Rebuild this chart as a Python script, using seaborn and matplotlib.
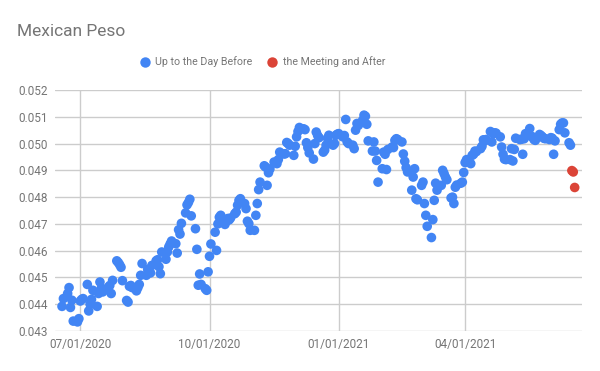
import matplotlib
matplotlib.use("Agg")
import matplotlib.pyplot as plt
import matplotlib.dates as mdates
from matplotlib.lines import Line2D
import pandas as pd
import seaborn as sns

# ---- data -------------------------------------------------------------
title = "Mexican Peso"
series_names = ["Up to the Day Before", "the Meeting and After"]

before_start, before_end = "2020-06-18", "2021-06-15"
after_dates = ["2021-06-16", "2021-06-17", "2021-06-18"]

# business-day values, one row per week (Mon..Fri)
before_values = [
    .04392, .04421,
    .04440, .04462, .04388, .04415, .04337,
    .04334, .04346, .04412, .04418, .04421,
    .04474, .04375, .04400, .04418, .04452,
    .04392, .04440, .04483, .04460, .04446,
    .04455, .04464, .04470, .04440, .04489,
    .04562, .04556, .04548, .04538, .04488,
    .04414, .04408, .04467, .04470, .04462,
    .04450, .04462, .04474, .04508, .04552,
    .04508, .04530, .04520, .04517, .04545,
    .04562, .04566, .04540, .04514, .04595,
    .04568, .04595, .04614, .04625, .04636,
    .04626, .04591, .04678, .04662, .04702,
    .04741, .04771, .04780, .04792, .04730,
    .04682, .04605, .04471, .04513, .04474,
    .04458, .04452, .04521, .04579, .04625,
    .04669, .04601, .04700, .04725, .04732,
    .04698, .04710, .04720, .04715, .04722,
    .04738, .04744, .04770, .04788, .04794,
    .04776, .04757, .04710, .04701, .04676,
    .04676, .04732, .04776, .04828, .04856,
    .04917, .04912, .04844, .04891, .04905,
    .04931, .04928, .04925, .04940, .04968,
    .04961, .04962, .05004, .05000, .04994,
    .04956, .04990, .05025, .05045, .05060,
    .05055, .05052, .05003, .04985, .04965,
    .04942, .05000, .05043, .05030, .05022,
    .04968, .04975, .04994, .05020, .05031,
    .04994, .05000, .05031, .05035, .05037,
    .05025, .05030, .05090, .05006, .05000,
    .04994, .04981, .05050, .05075, .05068,
    .05087, .05106, .05102, .05072, .05010,
    .04972, .05006, .04972, .04937, .04856,
    .04906, .04968, .04960, .04903, .04978,
    .04987, .04985, .05012, .05018, .05015,
    .05006, .04961, .04934, .04910, .04894,
    .04826, .04875, .04906, .04794, .04790,
    .04844, .04856, .04776, .04732, .04691,
    .04649, .04716, .04788, .04852, .04826,
    .04844, .04900, .04888, .04875, .04865,
    .04797, .04800, .04776, .04837, .04845,
    .04852, .04856, .04892, .04929, .04940,
    .04925, .04956, .04960, .04972, .04970,
    .04981, .04990, .05014, .05010, .05015,
    .05045, .05006, .05037, .05040, .05039,
    .05025, .04987, .04960, .04942, .04940,
    .04940, .04981, .04935, .04978, .05020,
    .05015, .05016, .04960, .05018, .05037,
    .05056, .05027, .05025, .05015, .05012,
    .05034, .05030, .05025, .05020, .05018,
    .05015, .05022, .05020, .04960, .05010,
    .05052, .05072, .05077, .05077, .05040,
    .05003, .04994,
]
after_values = [.04899, .04894, .04836]

y_ticks = [0.043, 0.044, 0.045, 0.046, 0.047, 0.048, 0.049, 0.050, 0.051, 0.052]
x_ticks = ["2020-07-01", "2020-10-01", "2021-01-01", "2021-04-01"]

# ---- frame --------------------------------------------------------------
before_dates = pd.bdate_range(before_start, before_end)
n = min(len(before_dates), len(before_values))
df = pd.concat([
    pd.DataFrame({"date": before_dates[:n], "value": before_values[:n],
                  "series": series_names[0]}),
    pd.DataFrame({"date": pd.to_datetime(after_dates), "value": after_values,
                  "series": series_names[1]}),
], ignore_index=True)

sns.set_theme(style="white")
plt.rcParams["font.family"] = ["Roboto", "DejaVu Sans"]

GREY = "#757575"
BLUE = "#4285F4"
RED = "#DB4437"

fig = plt.figure(figsize=(6, 3.71), dpi=100)
ax = fig.add_axes([55 / 600, 1 - 331 / 371, (582 - 55) / 600, (331 - 90) / 371])

sns.scatterplot(data=df, x="date", y="value", hue="series",
                palette={series_names[0]: BLUE, series_names[1]: RED},
                s=48, linewidth=0, ax=ax, legend=False, zorder=3)

ax.set_xlim(pd.Timestamp("2020-06-13"), pd.Timestamp("2021-06-23 05:00"))
ax.set_ylim(y_ticks[0], y_ticks[-1])
ax.set_yticks(y_ticks)
ax.set_yticklabels([f"{v:.3f}" for v in y_ticks])
ax.set_xticks(pd.to_datetime(x_ticks))
ax.xaxis.set_major_formatter(mdates.DateFormatter("%m/%d/%Y"))

ax.grid(True, color="#cccccc", linewidth=1)
ax.set_axisbelow(True)
for sp in ax.spines.values():
    sp.set_visible(False)
ax.tick_params(length=0, labelsize=8.5, labelcolor=GREY, pad=5)
ax.set_xlabel("")
ax.set_ylabel("")

fig.text(17 / 600, 1 - 31 / 371, title, fontsize=12.5, color=GREY,
         ha="left", va="center")

handles = [Line2D([], [], marker="o", linestyle="", markersize=7.5,
                  markerfacecolor=c, markeredgewidth=0)
           for c in (BLUE, RED)]
fig.legend(handles, series_names, loc="center left",
           bbox_to_anchor=(134 / 600, 1 - 62 / 371), ncol=2, frameon=False,
           fontsize=7.7, labelcolor=GREY, handletextpad=0.35,
           columnspacing=1.3, handlelength=1.2, borderaxespad=0)

fig.savefig("out.png", dpi=100)
